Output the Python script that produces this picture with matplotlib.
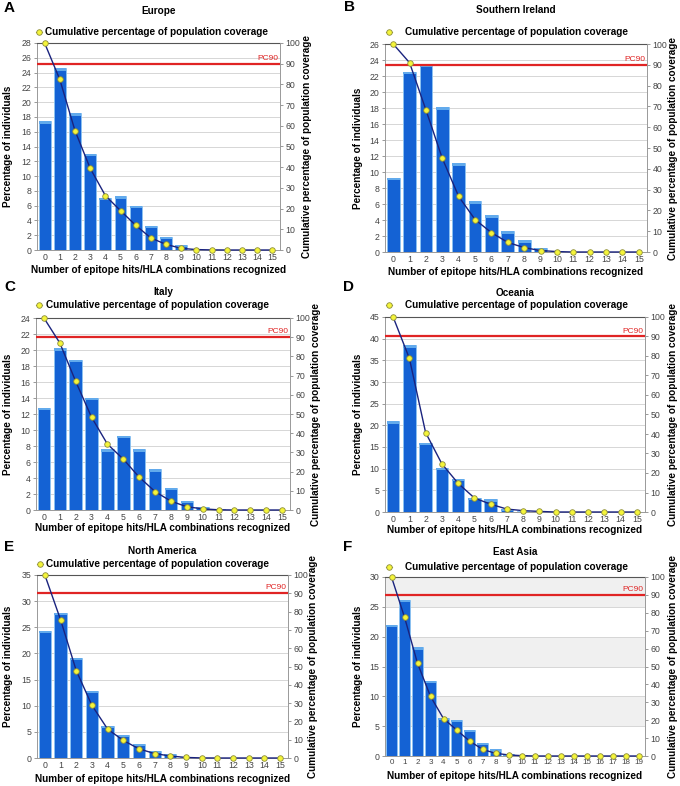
import numpy as np
import matplotlib
matplotlib.use("Agg")
import matplotlib.pyplot as plt
from matplotlib.lines import Line2D

plt.rcParams['font.family'] = ['Liberation Sans', 'DejaVu Sans']

# percentage of individuals per number of epitope hits, and cumulative coverage
europe_pct = [17.4, 24.6, 18.5, 13.0, 7.1, 7.3, 6.0, 3.25, 1.8, 0.7, 0.15, 0.05, 0, 0, 0, 0]
europe_cum = [100, 82.4, 57.7, 39.5, 26.3, 19.0, 11.9, 5.8, 2.7, 0.8, 0.2, 0.05, 0, 0, 0, 0]

ireland_pct = [9.3, 22.5, 23.4, 18.1, 11.1, 6.35, 4.6, 2.6, 1.45, 0.55, 0.1, 0, 0, 0, 0, 0]
ireland_cum = [100, 91.0, 68.3, 45.0, 26.7, 15.6, 9.3, 4.6, 2.1, 0.7, 0.2, 0, 0, 0, 0, 0]

italy_pct = [12.8, 20.2, 18.8, 14.0, 7.6, 9.26, 7.6, 5.07, 2.8, 1.16, 0.4, 0.1, 0, 0, 0, 0]
italy_cum = [100, 87.0, 67.0, 48.3, 34.3, 26.5, 17.1, 9.6, 4.6, 1.7, 0.6, 0.1, 0, 0, 0, 0]

oceania_pct = [20.9, 38.5, 16.0, 10.15, 7.7, 3.3, 2.9, 0.8, 0.3, 0.1, 0, 0, 0, 0, 0, 0]
oceania_cum = [100, 78.8, 40.7, 24.7, 14.7, 7.2, 4.0, 1.5, 0.7, 0.3, 0, 0, 0, 0, 0, 0]

namerica_pct = [24.3, 27.7, 19.1, 12.8, 6.2, 4.45, 2.7, 1.33, 0.8, 0.2, 0.05, 0, 0, 0, 0, 0]
namerica_cum = [100, 75.6, 47.8, 28.8, 15.8, 9.6, 5.0, 2.4, 1.1, 0.3, 0.05, 0, 0, 0, 0, 0]

easia_pct = [22.0, 26.2, 18.2, 12.6, 6.45, 6.06, 4.3, 2.25, 1.1, 0.4, 0.1,
             0, 0, 0, 0, 0, 0, 0, 0, 0]
easia_cum = [100, 77.6, 51.8, 33.3, 20.9, 14.6, 8.4, 3.7, 1.5, 0.6, 0.2,
             0, 0, 0, 0, 0, 0, 0, 0, 0]

W, H = 680, 786
XLABEL = "Number of epitope hits/HLA combinations recognized"
LEGEND = "Cumulative percentage of population coverage"

BAR = '#1462d4'
BAR_EDGE = '#8cc4f2'
CAP = '#62aaec'
LINE = '#1a237e'
RED = '#e02424'
MFC = '#f4f43a'
MEC = '#8c8c3c'


def fx(x):
    return x / W


def fy(y):
    return 1 - y / H


def draw_panel(fig, pct, cum, letter, title, ymax, ystep, lay, banded=False, xsize=6.3):
    l, t, r, b = lay['box']
    ax = fig.add_axes([fx(l), fy(b), (r - l) / W, (b - t) / H])
    x = np.arange(len(pct))
    vals = np.array(pct, dtype=float)
    ax.set_xlim(-0.5, len(pct) - 0.5)
    ax.set_ylim(0, ymax)
    ticks = np.arange(0, ymax + 0.01, ystep)
    ax.set_yticks(ticks)
    ax.set_xticks(x)
    if banded:
        for lo in ticks[1:-1:2]:
            ax.axhspan(lo, lo + ystep, color='#f0f0f0', zorder=0, lw=0)
    ax.yaxis.grid(True, color='#d6d6d6', lw=0.7)
    ax.set_axisbelow(True)

    ax.bar(x, vals, width=0.78, color=BAR, edgecolor=BAR_EDGE, linewidth=0.6, zorder=2)
    cap = ymax * 0.012
    m = vals > cap
    ax.bar(x[m], cap, bottom=vals[m] - cap, width=0.78, color=CAP, lw=0, zorder=3)

    ax.tick_params(axis='y', length=2, width=0.6, labelsize=6.3, labelcolor='#444',
                   colors='#888', pad=2)
    ax.tick_params(axis='x', length=0, labelsize=xsize, labelcolor='#444', pad=2)
    for s in ['left', 'bottom']:
        ax.spines[s].set_color('#999')
        ax.spines[s].set_linewidth(0.7)
    ax.spines['top'].set_color('#555')
    ax.spines['top'].set_linewidth(0.8)
    ax.spines['right'].set_visible(False)

    ax2 = ax.twinx()
    ax2.set_ylim(0, 100)
    ax2.set_yticks(range(0, 101, 10))
    ax2.tick_params(axis='y', length=2, width=0.6, labelsize=6.3, labelcolor='#444',
                    colors='#888', pad=2)
    for s in ['left', 'bottom', 'top']:
        ax2.spines[s].set_visible(False)
    ax2.spines['right'].set_color('#999')
    ax2.spines['right'].set_linewidth(0.7)
    ax2.axhline(90, color=RED, lw=1.6, zorder=3)
    ax2.text(len(pct) - 0.6, 91, 'PC90', color=RED, fontsize=6, ha='right', va='bottom')
    ax2.plot(x, cum, color=LINE, lw=1, marker='o', ms=4, mfc=MFC, mec=MEC, mew=0.6,
             zorder=5, clip_on=False)

    cx = (l + r) / 2
    fig.text(fx(lay['letter'][0]), fy(lay['letter'][1]), letter, fontsize=11,
             fontweight='bold', ha='left', va='center')
    fig.text(fx(cx), fy(lay['title_y']), title, fontsize=7.2, fontweight='bold',
             ha='center', va='center')
    # legend entry
    mx, ly = lay['leg_marker'], lay['legend_y']
    fig.add_artist(Line2D([fx(mx - 3), fx(mx + 3)], [fy(ly), fy(ly)], color=MEC, lw=0.8))
    fig.add_artist(Line2D([fx(mx)], [fy(ly)], marker='o', ms=4, mfc=MFC, mec=MEC, mew=0.6))
    fig.text(fx(lay['leg_text']), fy(ly), LEGEND, fontsize=7.2, fontweight='bold',
             ha='left', va='center')
    fig.text(fx(cx), fy(lay['xlabel_y']), XLABEL, fontsize=7.2, fontweight='bold',
             ha='center', va='center')
    cy = (t + b) / 2
    fig.text(fx(lay['ylab_x']), fy(cy), 'Percentage of individuals', fontsize=7.2,
             fontweight='bold', rotation=90, ha='center', va='center')
    fig.text(fx(lay['ylab2_x']), fy(cy), LEGEND, fontsize=7.2, fontweight='bold',
             rotation=90, ha='center', va='center')


fig = plt.figure(figsize=(W / 100, H / 100), dpi=100)

draw_panel(fig, europe_pct, europe_cum, 'A', 'Europe', 28, 2,
           dict(box=(37, 43, 280, 250), title_y=11, legend_y=32, leg_marker=39, leg_text=45,
                letter=(4, 8), xlabel_y=270, ylab_x=8, ylab2_x=307))
draw_panel(fig, ireland_pct, ireland_cum, 'B', 'Southern Ireland', 26, 2,
           dict(box=(385, 44, 647, 252), title_y=10, legend_y=32, leg_marker=389, leg_text=405,
                letter=(344, 7), xlabel_y=272, ylab_x=358, ylab2_x=673))
draw_panel(fig, italy_pct, italy_cum, 'C', 'Italy', 24, 2,
           dict(box=(36, 318, 290, 510), title_y=292, legend_y=305, leg_marker=39, leg_text=46,
                letter=(4, 287), xlabel_y=528, ylab_x=8, ylab2_x=316))
draw_panel(fig, oceania_pct, oceania_cum, 'D', 'Oceania', 45, 5,
           dict(box=(385, 317, 645, 512), title_y=293, legend_y=305, leg_marker=389, leg_text=405,
                letter=(343, 287), xlabel_y=530, ylab_x=358, ylab2_x=673))
draw_panel(fig, namerica_pct, namerica_cum, 'E', 'North America', 35, 5,
           dict(box=(37, 575, 288, 758), title_y=551, legend_y=564, leg_marker=40, leg_text=46,
                letter=(4, 547), xlabel_y=779, ylab_x=8, ylab2_x=313))
draw_panel(fig, easia_pct, easia_cum, 'F', 'East Asia', 30, 5,
           dict(box=(385, 577, 645, 756), title_y=552, legend_y=567, leg_marker=389, leg_text=405,
                letter=(343, 547), xlabel_y=776, ylab_x=358, ylab2_x=673),
           banded=True, xsize=5.8)

fig.savefig('out.png', dpi=100)
